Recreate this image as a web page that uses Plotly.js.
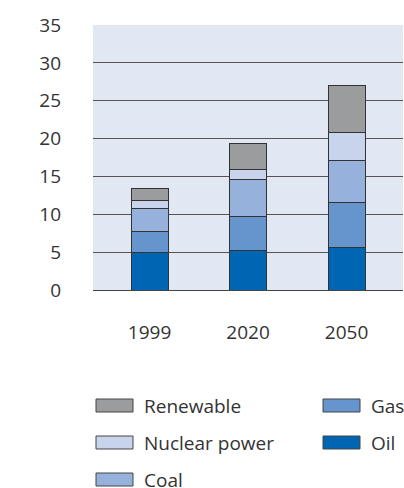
<!DOCTYPE html>
<html>
<head>
<meta charset="utf-8">
<script src="https://cdn.plot.ly/plotly-3.0.1.min.js"></script>
<style>html,body{margin:0;padding:0;background:#fff;}#chart{width:404px;height:488px;}</style>
</head>
<body>
<div id="chart"></div>
<script>
// Data
const years = ['1999', '2020', '2050'];
const oil = [4.9, 5.2, 5.55];
const gas = [2.85, 4.45, 5.95];
const coal = [2.95, 4.9, 5.65];
const nuclear = [1.1, 1.3, 3.7];
const renewable = [1.65, 3.45, 6.2];
const seriesNames = ['Oil', 'Gas', 'Coal', 'Nuclear power', 'Renewable'];
const seriesColors = ['#0066b3', '#6694cc', '#96b2dc', '#c8d4ec', '#9b9c9e'];
const yTicks = [0, 5, 10, 15, 20, 25, 30, 35];

const FONT = 'Open Sans, Noto Sans, sans-serif';
const FS = 19;

const seriesValues = [oil, gas, coal, nuclear, renewable];
const traces = seriesValues.map((vals, i) => ({
  type: 'bar',
  name: seriesNames[i],
  x: years,
  y: vals,
  width: 0.375,
  marker: {color: seriesColors[i], line: {color: '#333333', width: 1}},
  showlegend: false,
  hoverinfo: 'skip'
}));

// Custom legend (two columns, column-major order)
const W = 404, H = 488, L = 93, R = 1, T = 25, B = 198;
const pw = W - L - R, ph = H - T - B;
const fx = px => (px - L) / pw;
const fy = py => (H - B - py) / ph;
const legendOrder = [4, 3, 2, 1, 0]; // Renewable, Nuclear, Coal, Gas, Oil
const shapes = [], annotations = [];
legendOrder.forEach((si, k) => {
  const col = k < 3 ? 0 : 1;
  const row = k < 3 ? k : k - 3;
  const sx = col === 0 ? 96 : 323;
  const cy = 405.5 + row * 37;
  shapes.push({type: 'rect', xref: 'paper', yref: 'paper',
    x0: fx(sx), x1: fx(sx + 37), y0: fy(cy - 6.5), y1: fy(cy + 6.5),
    fillcolor: seriesColors[si], line: {color: '#444444', width: 1}});
  annotations.push({xref: 'paper', yref: 'paper', x: fx(sx + 46), y: fy(cy),
    xanchor: 'left', yanchor: 'middle', showarrow: false,
    text: seriesNames[si], font: {family: FONT, size: FS, color: '#333333'}});
});

const layout = {
  width: W, height: H,
  margin: {l: L, r: R, t: T, b: B, pad: 0},
  paper_bgcolor: '#ffffff',
  plot_bgcolor: '#e1e7f3',
  barmode: 'stack',
  font: {family: FONT, size: FS, color: '#333333'},
  xaxis: {
    type: 'category',
    range: [-0.574, 2.573],
    showgrid: false,
    showline: true, linecolor: '#444444', linewidth: 1.2,
    ticks: '', ticklabelstandoff: 25,
    tickfont: {size: FS, color: '#333333'},
    fixedrange: true
  },
  yaxis: {
    range: [0, 35],
    tickvals: yTicks,
    ticktext: yTicks.map(String),
    showgrid: true, gridcolor: '#555555', gridwidth: 1.2,
    zeroline: false,
    showline: false,
    ticks: '', ticklabelstandoff: 31,
    tickfont: {size: FS, color: '#333333'},
    fixedrange: true
  },
  shapes: shapes,
  annotations: annotations,
  showlegend: false
};

Plotly.newPlot('chart', traces, layout, {displayModeBar: false, staticPlot: true});
</script>
</body>
</html>
